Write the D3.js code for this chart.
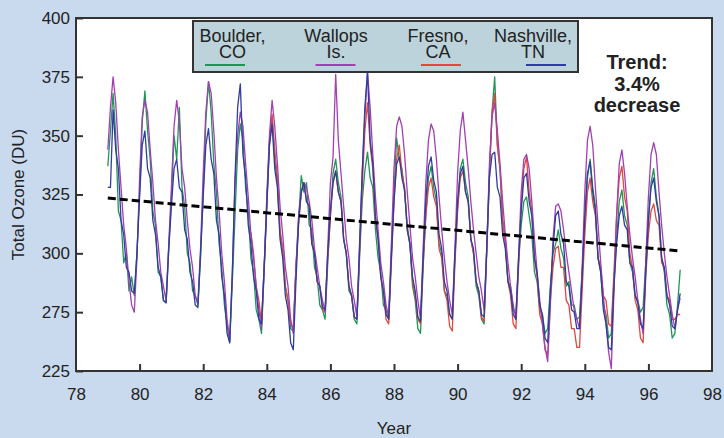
<!DOCTYPE html>
<html>
<head>
<meta charset="utf-8">
<script src="https://cdn.jsdelivr.net/npm/d3@7"></script>
<style>
    body { margin: 0; background: #cadaee; }
    svg { display: block; font-family: "Liberation Sans", Arial, sans-serif; }
</style>
</head>
<body>
<div id="chart-area"></div>
<script>

// monthly total ozone (DU), one row per year, starting January 1979
var boulder = [
    337, 352, 368, 350, 318, 314, 296, 300, 284, 290, 282, 300,
    326, 356, 369, 352, 340, 318, 312, 292, 290, 280, 279, 302,
    324, 350, 340, 362, 328, 320, 300, 296, 284, 282, 278, 298,
    326, 356, 373, 360, 338, 326, 304, 294, 278, 270, 262, 288,
    316, 344, 355, 348, 328, 318, 298, 292, 276, 272, 266, 292,
    320, 346, 357, 340, 330, 308, 302, 286, 280, 268, 267, 294,
    314, 333, 326, 330, 312, 310, 294, 290, 278, 276, 272, 296,
    316, 334, 340, 330, 324, 306, 300, 284, 282, 272, 270, 298,
    322, 335, 343, 332, 328, 310, 298, 292, 278, 276, 272, 300,
    326, 349, 340, 336, 326, 312, 304, 286, 280, 268, 266, 294,
    316, 332, 337, 328, 322, 304, 300, 284, 282, 274, 272, 298,
    320, 336, 340, 330, 324, 306, 300, 286, 282, 272, 270, 302,
    334, 360, 375, 346, 336, 314, 306, 288, 286, 276, 274, 296,
    312, 322, 324, 316, 308, 292, 288, 276, 274, 266, 268, 286,
    300, 304, 310, 302, 298, 286, 288, 278, 278, 272, 273, 292,
    312, 332, 340, 328, 320, 298, 292, 278, 274, 264, 266, 288,
    306, 322, 327, 316, 312, 296, 292, 282, 280, 275, 277, 296,
    314, 330, 336, 324, 316, 298, 292, 278, 274, 264, 266, 278,
    293
];

var wallops = [
    344, 362, 375, 364, 344, 328, 312, 302, 288, 278, 275, 298,
    332, 358, 365, 360, 344, 330, 314, 304, 292, 286, 280, 304,
    328, 354, 365, 356, 336, 328, 314, 302, 294, 282, 279, 302,
    334, 360, 373, 368, 352, 332, 318, 300, 288, 272, 263, 292,
    330, 350, 360, 354, 338, 324, 308, 298, 286, 276, 268, 294,
    324, 350, 365, 354, 338, 320, 308, 294, 286, 272, 266, 294,
    316, 326, 330, 328, 322, 314, 302, 294, 286, 280, 275, 302,
    330, 341, 376, 348, 334, 320, 306, 298, 286, 280, 273, 304,
    334, 358, 377, 362, 342, 324, 310, 296, 288, 278, 273, 304,
    336, 354, 358, 354, 342, 326, 312, 298, 290, 280, 272, 302,
    330, 348, 355, 352, 340, 324, 310, 298, 288, 280, 274, 302,
    334, 352, 360, 348, 336, 322, 310, 300, 290, 284, 276, 302,
    338, 358, 364, 352, 338, 322, 308, 296, 286, 278, 272, 298,
    326, 340, 342, 336, 322, 306, 292, 280, 270, 260, 254, 278,
    306, 320, 321, 318, 310, 300, 292, 284, 276, 272, 268, 294,
    326, 348, 354, 346, 328, 312, 296, 282, 270, 258, 251, 284,
    316, 338, 344, 334, 320, 308, 298, 290, 280, 272, 266, 296,
    324, 342, 347, 342, 326, 312, 300, 290, 282, 274, 268, 276,
    281
];

// Fresno record begins July 1983
var fresno = [
    309, 300, 286, 280, 270, 294,
    322, 348, 359, 344, 332, 310, 302, 286, 280, 270, 268, 294,
    312, 326, 330, 322, 320, 304, 300, 288, 286, 276, 275, 298,
    316, 330, 335, 326, 322, 306, 300, 286, 282, 273, 272, 300,
    328, 352, 364, 346, 336, 314, 306, 290, 284, 272, 270, 296,
    322, 340, 346, 334, 328, 310, 304, 288, 282, 272, 270, 296,
    316, 328, 332, 324, 320, 302, 298, 284, 280, 269, 267, 296,
    318, 332, 335, 326, 322, 306, 300, 288, 284, 273, 271, 300,
    332, 360, 368, 346, 336, 314, 304, 288, 282, 270, 268, 294,
    320, 336, 341, 326, 318, 298, 290, 274, 270, 259, 257, 280,
    294, 302, 303, 294, 294, 280, 278, 268, 268, 260, 260, 284,
    308, 326, 332, 322, 316, 298, 294, 282, 280, 270, 269, 292,
    316, 332, 337, 324, 318, 300, 294, 280, 276, 264, 262, 290,
    308, 318, 321, 314, 312, 296, 294, 282, 280, 272, 272, 274,
    274
];

var nashville = [
    328, 328, 361, 344, 336, 314, 308, 294, 292, 284, 283, 300,
    324, 346, 352, 336, 332, 314, 308, 294, 290, 280, 279, 302,
    320, 336, 340, 328, 326, 310, 306, 292, 288, 278, 277, 300,
    324, 346, 353, 340, 334, 314, 308, 290, 282, 266, 262, 292,
    332, 362, 372, 342, 332, 312, 304, 290, 284, 272, 270, 294,
    320, 346, 355, 336, 328, 306, 298, 282, 276, 262, 259, 288,
    314, 326, 330, 322, 320, 304, 300, 288, 286, 277, 276, 300,
    318, 330, 335, 326, 322, 306, 300, 286, 282, 273, 272, 302,
    334, 362, 377, 348, 338, 316, 306, 290, 284, 274, 272, 298,
    322, 338, 341, 332, 327, 310, 304, 290, 284, 273, 271, 298,
    322, 337, 341, 331, 326, 308, 302, 288, 284, 274, 272, 300,
    322, 334, 337, 326, 322, 306, 302, 288, 284, 274, 273, 302,
    332, 342, 343, 328, 324, 308, 302, 288, 284, 274, 272, 298,
    318, 332, 334, 322, 316, 298, 292, 278, 274, 264, 262, 284,
    302, 316, 318, 308, 304, 288, 286, 276, 275, 268, 268, 290,
    316, 334, 339, 326, 318, 298, 292, 276, 270, 260, 259, 286,
    304, 316, 320, 312, 310, 296, 294, 282, 279, 270, 268, 292,
    314, 328, 332, 322, 316, 298, 294, 282, 278, 269, 268, 276,
    283
];

var trendYears = [79, 97];
var trendValues = [323.5, 301];

var xTicks = [78, 80, 82, 84, 86, 88, 90, 92, 94, 96, 98];
var yTicks = [250, 275, 300, 325, 350, 375, 400];
var yTickLabels = ["225", "275", "300", "325", "350", "375", "400"];

var seriesNames = ["Boulder,|CO", "Wallops|Is.", "Fresno,|CA", "Nashville,|TN"];
var seriesColors = ["#1f9656", "#a23fb3", "#e0473d", "#2f3d9e"];


var width = 724, height = 438;
var margin = { top: 18, right: 12, bottom: 67, left: 76 };

var svg = d3.select("#chart-area").append("svg")
    .attr("width", width)
    .attr("height", height);

svg.append("rect")
    .attr("width", width)
    .attr("height", height)
    .attr("fill", "#cadaee");

var x = d3.scaleLinear()
    .domain([78, 98])
    .range([margin.left, width - margin.right]);

var y = d3.scaleLinear()
    .domain([250, 400])
    .range([height - margin.bottom, margin.top]);

// plot background
svg.append("rect")
    .attr("x", x(78))
    .attr("y", y(400))
    .attr("width", x(98) - x(78))
    .attr("height", y(250) - y(400))
    .attr("fill", "white");

function toPoints(values, start) {
    return values.map(function(v, i) { return { year: start + i / 12, value: v }; });
}

var series = [
    { data: toPoints(boulder, 79), color: seriesColors[0] },
    { data: toPoints(fresno, 83.5), color: seriesColors[2] },
    { data: toPoints(wallops, 79), color: seriesColors[1] },
    { data: toPoints(nashville, 79), color: seriesColors[3] }
];

var line = d3.line()
    .x(function(d) { return x(d.year); })
    .y(function(d) { return y(d.value); });

svg.append("g").selectAll("path")
    .data(series)
    .enter()
    .append("path")
    .attr("d", function(d) { return line(d.data); })
    .attr("fill", "none")
    .attr("stroke", function(d) { return d.color; })
    .attr("stroke-width", 1.3)
    .attr("stroke-linejoin", "round");

// trend line
svg.append("line")
    .attr("x1", x(trendYears[0]))
    .attr("y1", y(trendValues[0]))
    .attr("x2", x(trendYears[1]))
    .attr("y2", y(trendValues[1]))
    .attr("stroke", "black")
    .attr("stroke-width", 3)
    .attr("stroke-dasharray", "8,4");

// axes, ticks point inward
var xAxis = d3.axisBottom(x)
    .tickValues(xTicks)
    .tickSize(-7)
    .tickPadding(17)
    .tickFormat(function(d) { return d; });

var yAxis = d3.axisLeft(y)
    .tickValues(yTicks)
    .tickSize(-7)
    .tickPadding(6)
    .tickFormat(function(d, i) { return yTickLabels[i]; });

var gx = svg.append("g")
    .attr("transform", "translate(0," + y(250) + ")")
    .call(xAxis);

var gy = svg.append("g")
    .attr("transform", "translate(" + x(78) + ",0)")
    .call(yAxis);

[gx, gy].forEach(function(g) {
    g.select(".domain").remove();
    g.selectAll("line").attr("stroke", "#333").attr("stroke-width", 2);
    g.selectAll("text")
        .attr("font-size", "17px")
        .attr("fill", "#222")
        .style("font-family", "Liberation Sans, Arial, sans-serif");
});
gx.selectAll(".tick line").filter(function(d) { return d === 78 || d === 98; }).remove();

// frame
svg.append("rect")
    .attr("x", x(78))
    .attr("y", y(400))
    .attr("width", x(98) - x(78))
    .attr("height", y(250) - y(400))
    .attr("fill", "none")
    .attr("stroke", "#333")
    .attr("stroke-width", 2);

// axis titles
svg.append("text")
    .attr("x", 394)
    .attr("y", 434)
    .attr("text-anchor", "middle")
    .attr("font-size", "17px")
    .attr("fill", "#222")
    .text("Year");

svg.append("text")
    .attr("transform", "translate(24," + ((y(250) + y(400)) / 2) + ") rotate(-90)")
    .attr("text-anchor", "middle")
    .attr("font-size", "17px")
    .attr("fill", "#222")
    .text("Total Ozone (DU)");

// legend
var legend = svg.append("g");

legend.append("rect")
    .attr("x", 193)
    .attr("y", 21)
    .attr("width", 385)
    .attr("height", 51)
    .attr("fill", "#bcd3dc")
    .attr("stroke", "#333")
    .attr("stroke-width", 2);

var legendItems = [
    { name: seriesNames[0], color: seriesColors[0], tx: 232.5, lx: 225 },
    { name: seriesNames[1], color: seriesColors[1], tx: 336, lx: 335.5 },
    { name: seriesNames[2], color: seriesColors[2], tx: 438, lx: 441 },
    { name: seriesNames[3], color: seriesColors[3], tx: 533, lx: 546 }
];

legendItems.forEach(function(d) {
    var parts = d.name.split("|");
    legend.append("text")
        .attr("x", d.tx)
        .attr("y", 42)
        .attr("text-anchor", "middle")
        .attr("font-size", "18px")
        .attr("fill", "#222")
        .text(parts[0]);
    legend.append("text")
        .attr("x", d.tx)
        .attr("y", 57.5)
        .attr("text-anchor", "middle")
        .attr("font-size", "18px")
        .attr("fill", "#222")
        .text(parts[1]);
    legend.append("line")
        .attr("x1", d.lx - 20)
        .attr("x2", d.lx + 20)
        .attr("y1", 65)
        .attr("y2", 65)
        .attr("stroke", d.color)
        .attr("stroke-width", 2);
});

// trend note
var note = ["Trend:", "3.4%", "decrease"];
svg.append("g").selectAll("text")
    .data(note)
    .enter()
    .append("text")
    .attr("x", 637)
    .attr("y", function(d, i) { return 69 + i * 21.5; })
    .attr("text-anchor", "middle")
    .attr("font-size", "20px")
    .attr("font-weight", "bold")
    .attr("fill", "#222")
    .text(function(d) { return d; });

</script>
</body>
</html>
